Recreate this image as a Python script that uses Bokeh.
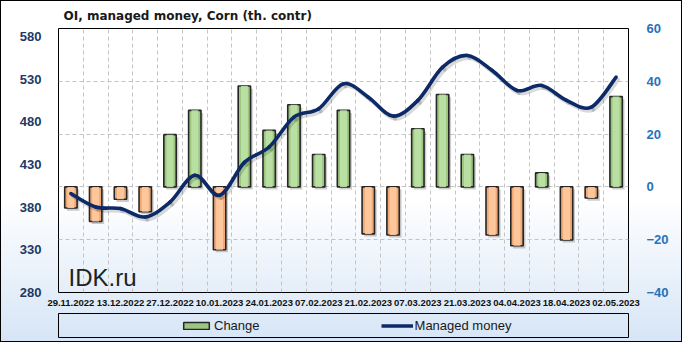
from bokeh.plotting import figure
from bokeh.layouts import column
from bokeh.models import Range1d, LinearAxis, FixedTicker, Label, Legend, LegendItem, ColumnDataSource
from bokeh.embed import file_html
from bokeh.resources import INLINE

# ---- data ----
dates = ["29.11.2022", "06.12.2022", "13.12.2022", "20.12.2022", "27.12.2022", "03.01.2023",
         "10.01.2023", "17.01.2023", "24.01.2023", "31.01.2023", "07.02.2023", "14.02.2023",
         "21.02.2023", "28.02.2023", "07.03.2023", "14.03.2023", "21.03.2023", "28.03.2023",
         "04.04.2023", "11.04.2023", "18.04.2023", "25.04.2023", "02.05.2023"]
change = [-8.0, -13.1, -4.7, -9.4, 19.8, 29.0, -23.8, 38.2, 21.4, 31.1, 12.3, 29.0,
          -17.8, -18.2, 22.0, 35.0, 12.3, -18.2, -22.3, 5.3, -20.1, -4.2, 34.2]
managed = [396.0, 380.3, 378.4, 368.6, 386.1, 417.4, 394.0, 432.6, 450.6, 485.7, 495.5, 524.8,
           509.1, 486.9, 505.3, 544.3, 558.0, 540.4, 517.0, 522.8, 505.3, 497.4, 532.5]
left_ticks = [280, 330, 380, 430, 480, 530, 580]
right_ticks = [-40, -20, 0, 20, 40, 60]

GREEN = "#9CC67F"
ORANGE = "#F0A976"
NAVY = "#0C2A68"
EDGE = "#262626"

n = len(dates)
xs = list(range(n))

p = figure(width=682, height=310, output_backend="svg", toolbar_location=None,
           x_range=Range1d(-0.5, n - 0.5), y_range=Range1d(280, 589.6),
           min_border_left=58, min_border_right=54, min_border_top=28, min_border_bottom=18)
p.background_fill_color = None
p.border_fill_color = None
p.outline_line_color = "#000000"
p.outline_line_width = 1

# title
p.title.text = "OI, managed money, Corn (th. contr)"
p.title.align = "left"
p.title.offset = 5
p.title.standoff = 12
p.title.text_font = "DejaVu Sans"
p.title.text_font_style = "bold"
p.title.text_font_size = "12px"
p.title.text_color = "#1a1a1a"

p.extra_y_ranges = {"right": Range1d(-40, 60)}
raxis = LinearAxis(y_range_name="right")
p.add_layout(raxis, "right")

# axes styling
lax = p.yaxis[0]
lax.ticker = FixedTicker(ticks=left_ticks)
lax.axis_line_color = None
lax.major_tick_line_color = None
lax.minor_tick_line_color = None
lax.major_label_standoff = 11
lax.major_label_text_font = "Liberation Sans"
lax.major_label_text_font_style = "bold"
lax.major_label_text_font_size = "13px"
lax.major_label_text_color = "#1F3864"

raxis.ticker = FixedTicker(ticks=right_ticks)
raxis.axis_line_color = None
raxis.major_tick_line_color = None
raxis.minor_tick_line_color = None
raxis.major_label_standoff = 12
raxis.major_label_text_font = "Liberation Sans"
raxis.major_label_text_font_style = "bold"
raxis.major_label_text_font_size = "13px"
raxis.major_label_text_color = "#2472BC"

xax = p.xaxis[0]
xax.ticker = FixedTicker(ticks=xs[::2])
xax.major_label_overrides = {i: dates[i] for i in xs[::2]}
xax.axis_line_color = None
xax.major_tick_line_color = None
xax.minor_tick_line_color = None
xax.major_label_standoff = 1
xax.major_label_text_font = "Liberation Sans Narrow, Liberation Sans"
xax.major_label_text_font_style = "bold"
xax.major_label_text_font_size = "9.5px"
xax.major_label_text_color = "#111111"

# grids
p.xgrid[0].ticker = FixedTicker(ticks=[i + 0.5 for i in xs[:-1]])
p.xgrid[0].grid_line_color = "#C4C4C4"
p.xgrid[0].grid_line_dash = "4 3"
p.ygrid[0].y_range_name = "right"
p.ygrid[0].ticker = FixedTicker(ticks=right_ticks[1:-1])
p.ygrid[0].grid_line_color = "#C4C4C4"
p.ygrid[0].grid_line_dash = "4 3"

# bars
pos_x = [i for i, v in zip(xs, change) if v >= 0]
pos_v = [v for v in change if v >= 0]
neg_x = [i for i, v in zip(xs, change) if v < 0]
neg_v = [v for v in change if v < 0]
src_pos = ColumnDataSource(dict(x=pos_x, top=pos_v, xs=[x + 0.09 for x in pos_x],
                                ts=[v - 1.0 for v in pos_v]))
src_neg = ColumnDataSource(dict(x=neg_x, bottom=neg_v, xs=[x + 0.09 for x in neg_x],
                                bs=[v - 1.0 for v in neg_v]))
# soft shadows
p.vbar(x="xs", top="ts", bottom=-1.0, width=0.5, source=src_pos, y_range_name="right",
       fill_color="#000000", fill_alpha=0.2, line_color=None)
p.vbar(x="xs", top=-1.0, bottom="bs", width=0.5, source=src_neg, y_range_name="right",
       fill_color="#000000", fill_alpha=0.2, line_color=None)
p.vbar(x="x", top="top", bottom=0, width=0.5, source=src_pos, y_range_name="right",
       fill_color=GREEN, line_color=EDGE, line_width=1.6)
p.vbar(x="x", top=0, bottom="bottom", width=0.5, source=src_neg, y_range_name="right",
       fill_color=ORANGE, line_color=EDGE, line_width=1.6)
# highlight stripe
p.vbar(x="x", top="top", bottom=0, width=0.28, source=src_pos, y_range_name="right",
       fill_color="#BDE2A6", fill_alpha=0.9, line_color=None)
p.vbar(x="x", top=0, bottom="bottom", width=0.28, source=src_neg, y_range_name="right",
       fill_color="#FFC9A0", fill_alpha=0.9, line_color=None)

# smooth line (Catmull-Rom as cubic Bezier segments)
x0, y0, x1, y1, cx0, cy0, cx1, cy1 = [], [], [], [], [], [], [], []
for i in range(n - 1):
    ip, inx = max(i - 1, 0), min(i + 2, n - 1)
    x0.append(xs[i]); y0.append(managed[i])
    x1.append(xs[i + 1]); y1.append(managed[i + 1])
    cx0.append(xs[i] + (xs[i + 1] - xs[ip]) / 6.0)
    cy0.append(managed[i] + (managed[i + 1] - managed[ip]) / 6.0)
    cx1.append(xs[i + 1] - (xs[inx] - xs[i]) / 6.0)
    cy1.append(managed[i + 1] - (managed[inx] - managed[i]) / 6.0)
src_line = ColumnDataSource(dict(x0=x0, y0=y0, x1=x1, y1=y1, cx0=cx0, cy0=cy0, cx1=cx1, cy1=cy1))
sh = dict(x0=[v + 0.08 for v in x0], y0=[v - 3.0 for v in y0],
          x1=[v + 0.08 for v in x1], y1=[v - 3.0 for v in y1],
          cx0=[v + 0.08 for v in cx0], cy0=[v - 3.0 for v in cy0],
          cx1=[v + 0.08 for v in cx1], cy1=[v - 3.0 for v in cy1])
p.bezier(x0="x0", y0="y0", x1="x1", y1="y1", cx0="cx0", cy0="cy0", cx1="cx1", cy1="cy1",
         source=ColumnDataSource(sh), line_color="#000000", line_alpha=0.15, line_width=4,
         line_cap="round")
p.bezier(x0="x0", y0="y0", x1="x1", y1="y1", cx0="cx0", cy0="cy0", cx1="cx1", cy1="cy1",
         source=src_line, line_color=NAVY, line_width=3.6, line_cap="round")

# watermark
p.add_layout(Label(x=10, y=15, x_units="screen", y_units="screen", text="IDK.ru",
                   text_font="Liberation Sans", text_font_size="24px", text_baseline="alphabetic",
                   text_color="#222222"))

# ---- legend strip (its own small figure, frame outline = legend box) ----
q = figure(width=682, height=32, output_backend="svg", toolbar_location=None,
           x_range=Range1d(-0.5, n - 0.5), y_range=Range1d(-40, 60),
           x_axis_location=None, y_axis_location=None,
           min_border_left=58, min_border_right=54, min_border_top=3, min_border_bottom=5)
q.background_fill_color = None
q.border_fill_color = None
q.outline_line_color = "#000000"
q.outline_line_width = 1
q.grid.visible = False
# hidden copies of the series, used only to draw the legend glyphs
lg_bar = q.vbar(x=pos_x, top=pos_v, bottom=0, width=0.5, fill_color=GREEN, line_color=EDGE,
                line_width=1.5, visible=False)
lg_line = q.line(x=xs, y=managed, line_color=NAVY, line_width=3.6, visible=False)
legend = Legend(items=[LegendItem(label="Change", renderers=[lg_bar]),
                       LegendItem(label="Managed money", renderers=[lg_line])],
                orientation="horizontal", location=(122, 2), padding=0, spacing=121,
                label_standoff=2, glyph_width=32, glyph_height=9, label_height=20,
                border_line_color=None, background_fill_alpha=0,
                inactive_fill_alpha=0,
                label_text_font="Liberation Sans", label_text_font_size="13px",
                label_text_color="#1a1a1a", margin=0)
q.add_layout(legend, "center")

layout = column(p, q, spacing=0,
                styles={"background": "linear-gradient(180deg, #ffffff 0%, #ffffff 58%, #d6e5f6 100%)",
                        "outline": "1px solid #000000", "outline-offset": "-1px"})

open("out.html", "w").write(file_html(layout, INLINE))
